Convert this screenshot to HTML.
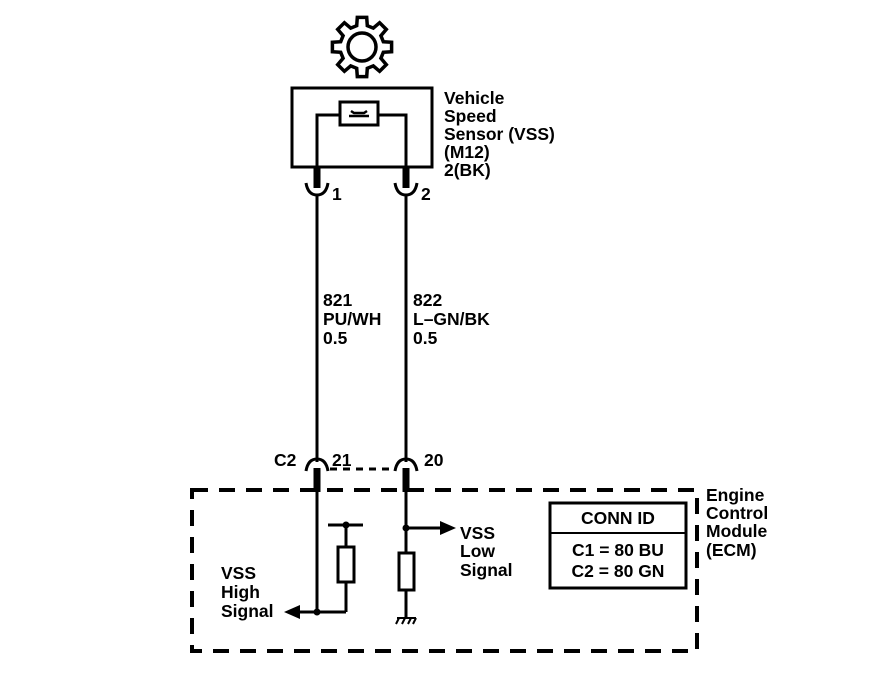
<!DOCTYPE html>
<html><head><meta charset="utf-8"><style>
html,body{margin:0;padding:0;background:#fff}
svg text{font-family:"Liberation Sans",Arial,sans-serif;font-size:17.5px;font-weight:bold;fill:#000}
</style></head><body>
<svg id="s" width="896" height="678" viewBox="0 0 896 678" xmlns="http://www.w3.org/2000/svg">
<polygon id="gear" fill="none" stroke="#000" stroke-width="3.5" stroke-linejoin="miter"/>
<circle cx="362" cy="47" r="14" fill="none" stroke="#000" stroke-width="3.5"/>
<rect x="292" y="88" width="140" height="79" fill="none" stroke="#000" stroke-width="3"/>
<polyline points="317,167 317,115 340,115" fill="none" stroke="#000" stroke-width="3"/>
<polyline points="378,115 406,115 406,167" fill="none" stroke="#000" stroke-width="3"/>
<rect x="340" y="102" width="38" height="23" fill="none" stroke="#000" stroke-width="3"/>
<path d="M349,116 h20 M351,111 l3,2 h10 l3,-2" stroke="#000" stroke-width="2.5" fill="none"/>
<text x="444" y="104">Vehicle</text><text x="444" y="122">Speed</text><text x="444" y="140">Sensor (VSS)</text><text x="444" y="158">(M12)</text><text x="444" y="176">2(BK)</text>
<g stroke="#000" fill="none">
<line x1="317" y1="167" x2="317" y2="188" stroke-width="7"/>
<line x1="406" y1="167" x2="406" y2="188" stroke-width="7"/>
<path d="M306,183 Q308,195 317,195 Q326,195 328,183" stroke-width="3"/>
<path d="M395,183 Q397,195 406,195 Q415,195 417,183" stroke-width="3"/>
<line x1="317" y1="195" x2="317" y2="462" stroke-width="3"/>
<line x1="406" y1="195" x2="406" y2="462" stroke-width="3"/>
<path d="M306,471 Q308,459 317,459 Q326,459 328,471" stroke-width="3"/>
<path d="M395,471 Q397,459 406,459 Q415,459 417,471" stroke-width="3"/>
<line x1="330" y1="469" x2="394" y2="469" stroke-width="3" stroke-dasharray="7,6"/>
<line x1="317" y1="468" x2="317" y2="492" stroke-width="7"/>
<line x1="406" y1="468" x2="406" y2="492" stroke-width="7"/>
<rect x="192" y="490" width="505" height="161" stroke-width="4" stroke-dasharray="16,11"/>
<line x1="317" y1="492" x2="317" y2="612" stroke-width="3"/>
<line x1="298" y1="612" x2="346" y2="612" stroke-width="3"/>
<line x1="346" y1="612" x2="346" y2="582" stroke-width="3"/>
<rect x="338" y="547" width="16" height="35" stroke-width="3"/>
<line x1="346" y1="547" x2="346" y2="525" stroke-width="3"/>
<line x1="328" y1="525" x2="363" y2="525" stroke-width="3"/>
<line x1="406" y1="492" x2="406" y2="553" stroke-width="3"/>
<line x1="406" y1="528" x2="440" y2="528" stroke-width="3"/>
<rect x="399" y="553" width="15" height="37" stroke-width="3"/>
<line x1="406" y1="590" x2="406" y2="617" stroke-width="3"/>
<path d="M397,618 h19 M399,618 l-3,6 M405,618 l-3,6 M411,618 l-3,6 M416,618 l-3,6" stroke-width="2"/>
<rect x="550" y="503" width="136" height="85" stroke-width="3"/>
<line x1="550" y1="533" x2="686" y2="533" stroke-width="2"/>
</g>
<circle cx="317" cy="612" r="3.5"/><circle cx="346" cy="525" r="3.5"/><circle cx="406" cy="528" r="3.5"/>
<polygon points="284,612 300,605 300,619"/>
<polygon points="456,528 440,521 440,535"/>
<text x="332" y="200">1</text><text x="421" y="200">2</text>
<text x="323" y="306">821</text><text x="323" y="325">PU/WH</text><text x="323" y="344">0.5</text>
<text x="413" y="306">822</text><text x="413" y="325">L–GN/BK</text><text x="413" y="344">0.5</text>
<text x="274" y="466">C2</text><text x="332" y="466">21</text><text x="424" y="466">20</text>
<text x="221" y="579">VSS</text><text x="221" y="598">High</text><text x="221" y="617">Signal</text>
<text x="460" y="539">VSS</text><text x="460" y="557">Low</text><text x="460" y="576">Signal</text>
<text x="618" y="524" text-anchor="middle">CONN ID</text>
<text x="618" y="556" text-anchor="middle">C1 = 80 BU</text>
<text x="618" y="577" text-anchor="middle">C2 = 80 GN</text>
<text x="706" y="501">Engine</text><text x="706" y="519">Control</text><text x="706" y="537">Module</text><text x="706" y="556">(ECM)</text>
</svg>
<script>
var pts=[],cx=362,cy=47,R=30,r=22;
for(var k=0;k<8;k++){var a=k*45;
[[a-14,r],[a-9,R],[a+9,R],[a+14,r]].forEach(function(p){var t=p[0]*Math.PI/180;pts.push((cx+p[1]*Math.cos(t)).toFixed(1)+","+(cy+p[1]*Math.sin(t)).toFixed(1));});}
document.getElementById("gear").setAttribute("points",pts.join(" "));
</script>
</body></html>
